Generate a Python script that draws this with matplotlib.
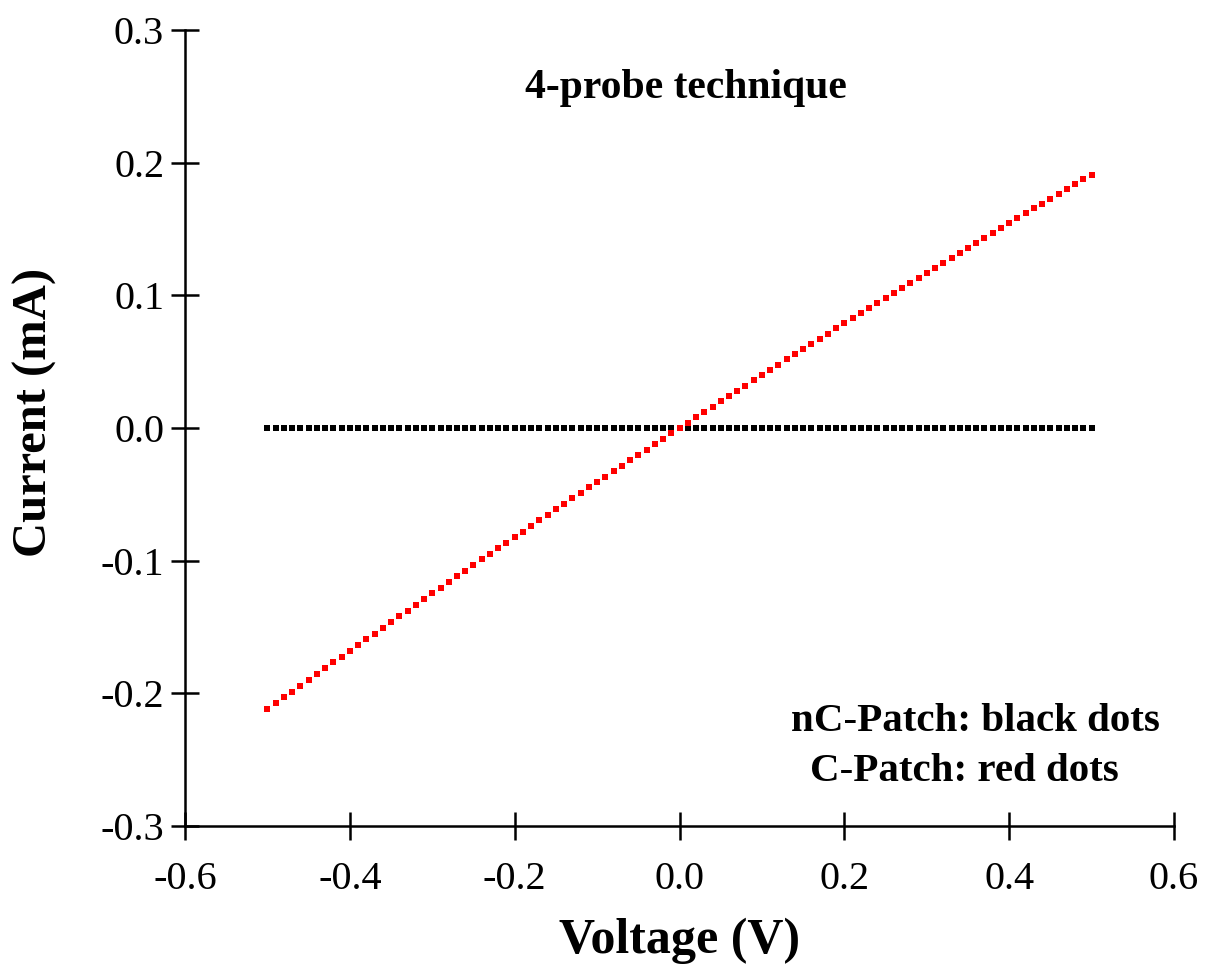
import numpy as np
import matplotlib.pyplot as plt

plt.rcParams['font.family'] = ['Liberation Serif', 'DejaVu Serif']

# voltage sweep, -0.5 V to 0.5 V in 0.01 V steps
voltage = np.linspace(-0.5, 0.5, 101)

# nC-Patch: no current through the sample
current_nc = [0.0] * 101

# C-Patch (mA)
current_c = [
    -0.2120, -0.2076, -0.2031, -0.1987, -0.1943, -0.1899, -0.1855, -0.1811, -0.1767, -0.1723,
    -0.1679, -0.1636, -0.1592, -0.1549, -0.1505, -0.1462, -0.1419, -0.1376, -0.1333, -0.1290,
    -0.1247, -0.1204, -0.1161, -0.1119, -0.1076, -0.1034, -0.0991, -0.0949, -0.0907, -0.0865,
    -0.0823, -0.0781, -0.0739, -0.0697, -0.0656, -0.0614, -0.0572, -0.0531, -0.0490, -0.0448,
    -0.0407, -0.0366, -0.0325, -0.0284, -0.0243, -0.0203, -0.0162, -0.0121, -0.0081, -0.0040,
    0.0,
    0.0040, 0.0080, 0.0120, 0.0161, 0.0200, 0.0240, 0.0280, 0.0320, 0.0359, 0.0399,
    0.0438, 0.0478, 0.0517, 0.0556, 0.0595, 0.0634, 0.0673, 0.0712, 0.0751, 0.0789,
    0.0828, 0.0866, 0.0905, 0.0943, 0.0981, 0.1019, 0.1057, 0.1095, 0.1133, 0.1171,
    0.1209, 0.1247, 0.1284, 0.1322, 0.1359, 0.1396, 0.1434, 0.1471, 0.1508, 0.1545,
    0.1582, 0.1619, 0.1655, 0.1692, 0.1728, 0.1765, 0.1801, 0.1838, 0.1874, 0.1910,
]

xticks = [-0.6, -0.4, -0.2, 0.0, 0.2, 0.4, 0.6]
yticks = [-0.3, -0.2, -0.1, 0.0, 0.1, 0.2, 0.3]

fig = plt.figure(figsize=(12.07, 9.71), dpi=100)
ax = fig.add_axes([0.1533, 0.1493, 0.8194, 0.8198])

ax.plot(voltage, current_nc, 's', color='black', markersize=4.6, markeredgewidth=0)
ax.plot(voltage, current_c, 's', color='red', markersize=4.6, markeredgewidth=0)

ax.set_xlim(-0.6, 0.6)
ax.set_ylim(-0.3, 0.3)
ax.set_xticks(xticks)
ax.set_yticks(yticks)
ax.set_xticklabels(['%.1f' % t for t in xticks])
ax.set_yticklabels(['%.1f' % t for t in yticks])

ax.spines['top'].set_visible(False)
ax.spines['right'].set_visible(False)
for s in ['left', 'bottom']:
    ax.spines[s].set_linewidth(1.8)
ax.tick_params(direction='inout', length=20, width=1.8, labelsize=29)
ax.tick_params(axis='x', pad=15)
ax.tick_params(axis='y', pad=5)

ax.set_xlabel('Voltage (V)', fontsize=36, fontweight='bold', labelpad=14)
ax.set_ylabel('Current (mA)', fontsize=35, fontweight='bold', va='center')
ax.yaxis.set_label_coords(-0.152, 0.52)

ax.text(0.008, 0.256, '4-probe technique', fontsize=30, fontweight='bold', ha='center', va='center')
ax.text(0.359, -0.221, 'nC-Patch: black dots', fontsize=29.5, fontweight='bold', ha='center', va='center')
ax.text(0.345, -0.259, 'C-Patch: red dots', fontsize=29.5, fontweight='bold', ha='center', va='center')

fig.savefig('out.png', dpi=100)
